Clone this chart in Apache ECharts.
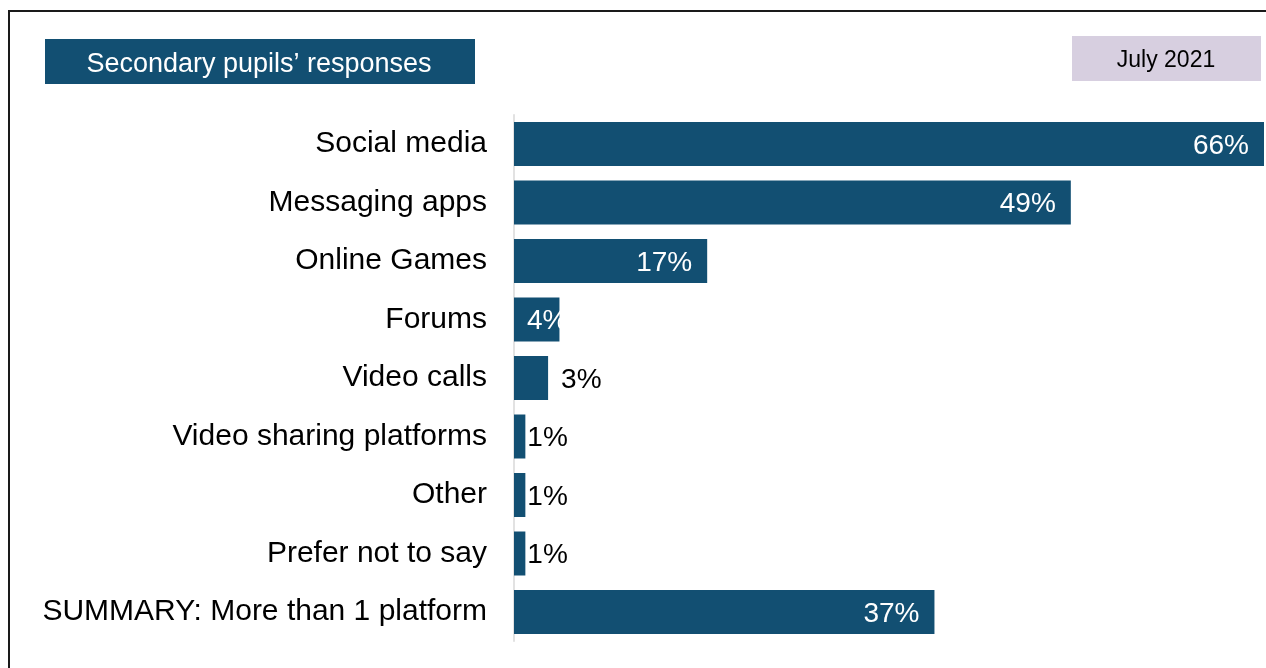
<!DOCTYPE html>
<html>
<head>
<meta charset="utf-8">
<title>Secondary pupils’ responses</title>
<script src="https://cdn.jsdelivr.net/npm/echarts@6/dist/echarts.min.js"></script>
<style>
  html, body { margin: 0; padding: 0; background: #ffffff; }
  #chart { width: 1266px; height: 668px; }
</style>
</head>
<body>
<div id="chart"></div>
<script>
// Platforms, listed top to bottom
const categories = [
  'Social media',
  'Messaging apps',
  'Online Games',
  'Forums',
  'Video calls',
  'Video sharing platforms',
  'Other',
  'Prefer not to say',
  'SUMMARY: More than 1 platform'
];

// Share of secondary pupils (%)
const values = [66, 49, 17, 4, 3, 1, 1, 1, 37];

const panelTitle = 'Secondary pupils’ responses';
const periodLabel = 'July 2021';

const FONT = "'Liberation Sans', Arial, sans-serif";
const BAR = '#124f72';

// Value label placement: long bars carry the label inside their end,
// short bars carry it just past the end.
function labelFor(v) {
  const base = {
    show: true,
    fontFamily: FONT,
    fontSize: 28,
    offset: [0, 2],
    formatter: '{c}%'
  };
  if (v >= 10) {
    return Object.assign(base, { position: 'insideRight', distance: 15, color: '#ffffff' });
  }
  if (v >= 4) {
    return Object.assign(base, { position: 'insideLeft', distance: 13, color: '#ffffff' });
  }
  if (v >= 2) {
    return Object.assign(base, { position: 'right', distance: 13, color: '#000000' });
  }
  return Object.assign(base, { position: 'right', distance: 2, color: '#000000' });
}

const seriesData = values.map(v => ({ value: v, label: labelFor(v) }));

const chart = echarts.init(document.getElementById('chart'), null, { renderer: 'canvas' });

chart.setOption({
  animation: false,
  backgroundColor: '#ffffff',
  grid: {
    left: 514,
    right: 2,
    top: 114.75,
    bottom: 26.75,
    containLabel: false
  },
  xAxis: {
    type: 'value',
    min: 0,
    max: 'dataMax',
    show: false
  },
  yAxis: {
    type: 'category',
    data: categories,
    inverse: true,
    axisLine: { show: true, lineStyle: { color: '#d9d9d9', width: 1.5 } },
    axisTick: { show: false },
    splitLine: { show: false },
    axisLabel: {
      margin: 27,
      fontFamily: FONT,
      fontSize: 30,
      padding: [7, 0, 0, 0],
      color: '#000000'
    }
  },
  series: [{
    type: 'bar',
    data: seriesData,
    barWidth: 44,
    itemStyle: { color: BAR },
    clip: true
  }],
  graphic: [
    // outer frame
    {
      type: 'rect',
      silent: true,
      z: 0,
      shape: { x: 9, y: 11, width: 1300, height: 700 },
      style: { fill: 'none', stroke: '#1a1a1a', lineWidth: 2 }
    },
    // panel heading
    {
      type: 'group',
      left: 45,
      top: 39,
      children: [
        {
          type: 'rect',
          shape: { x: 0, y: 0, width: 430, height: 45 },
          style: { fill: BAR }
        },
        {
          type: 'text',
          x: 214,
          y: 26,
          style: {
            text: panelTitle,
            fill: '#ffffff',
            font: '27px ' + FONT,
            textAlign: 'center',
            textVerticalAlign: 'middle'
          }
        }
      ]
    },
    // period tag
    {
      type: 'group',
      left: 1072,
      top: 36,
      children: [
        {
          type: 'rect',
          shape: { x: 0, y: 0, width: 189, height: 45 },
          style: { fill: '#d7cfe0' }
        },
        {
          type: 'text',
          x: 94,
          y: 25,
          style: {
            text: periodLabel,
            fill: '#000000',
            font: '23px ' + FONT,
            textAlign: 'center',
            textVerticalAlign: 'middle'
          }
        }
      ]
    }
  ]
});
</script>
</body>
</html>
